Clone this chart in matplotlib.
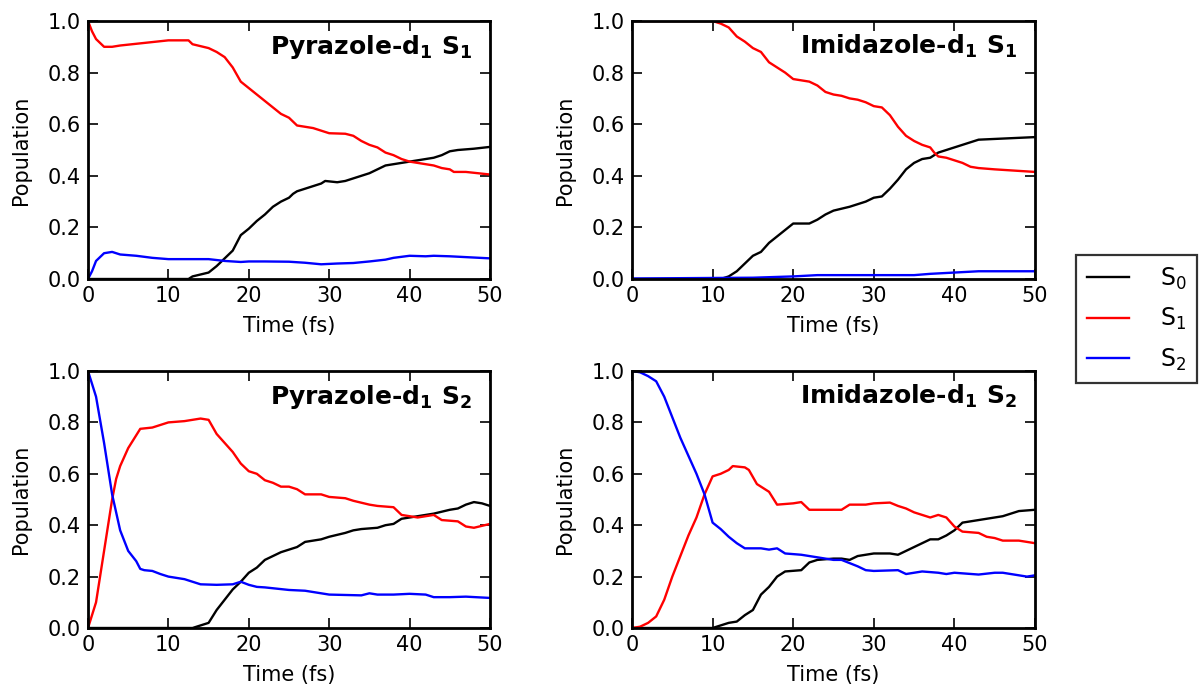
import matplotlib
matplotlib.use("Agg")
import matplotlib.pyplot as plt

# ---------------- data ----------------
# Panel 1: Pyrazole-d1 S1
p1_s0_t = [0, 12.5, 13, 15, 16, 17, 18, 18.5, 19, 20, 21, 22, 23, 24, 25, 25.5, 26, 27, 28, 29, 29.5, 31, 32, 33, 35, 37, 39, 41, 43, 44, 45, 46, 48, 50]
p1_s0_v = [0, 0, 0.01, 0.025, 0.05, 0.08, 0.11, 0.14, 0.17, 0.195, 0.225, 0.25, 0.28, 0.30, 0.315, 0.33, 0.34, 0.35, 0.36, 0.37, 0.38, 0.375, 0.38, 0.39, 0.41, 0.44, 0.45, 0.46, 0.47, 0.48, 0.495, 0.50, 0.505, 0.512]
p1_s1_t = [0, 0.5, 1, 2, 3, 4, 10, 12.5, 13, 15, 16, 17, 18, 19, 20, 22, 24, 25, 26, 28, 29, 30, 32, 33, 34, 35, 36, 37, 38, 39, 40, 42, 43, 44, 45, 45.5, 47, 50]
p1_s1_v = [1.0, 0.96, 0.93, 0.9, 0.9, 0.905, 0.925, 0.925, 0.91, 0.895, 0.88, 0.86, 0.82, 0.765, 0.74, 0.69, 0.64, 0.625, 0.595, 0.585, 0.575, 0.565, 0.563, 0.555, 0.535, 0.52, 0.51, 0.49, 0.48, 0.465, 0.455, 0.445, 0.44, 0.43, 0.425, 0.415, 0.415, 0.405]
p1_s2_t = [0, 0.5, 1, 2, 3, 4, 6, 8, 10, 12, 15, 17, 19, 20, 22, 25, 27, 29, 31, 33, 35, 37, 38, 40, 42, 43, 45, 50]
p1_s2_v = [0, 0.03, 0.07, 0.1, 0.105, 0.095, 0.09, 0.082, 0.077, 0.077, 0.077, 0.07, 0.066, 0.068, 0.068, 0.067, 0.063, 0.057, 0.06, 0.062, 0.068, 0.075, 0.082, 0.09, 0.088, 0.09, 0.088, 0.08]

# Panel 2: Imidazole-d1 S1
p2_s0_t = [0, 11, 12, 13, 14, 15, 16, 17, 18, 19, 20, 22, 23, 24, 25, 27, 28, 29, 30, 31, 32, 33, 34, 35, 36, 37, 38, 40, 42, 43, 50]
p2_s0_v = [0, 0, 0.01, 0.03, 0.06, 0.09, 0.105, 0.14, 0.165, 0.19, 0.215, 0.215, 0.23, 0.25, 0.265, 0.28, 0.29, 0.30, 0.315, 0.32, 0.35, 0.385, 0.425, 0.45, 0.465, 0.47, 0.49, 0.51, 0.53, 0.54, 0.55]
p2_s1_t = [0, 10, 11, 12, 13, 14, 15, 16, 17, 18, 19, 20, 21, 22, 23, 24, 25, 26, 27, 28, 29, 30, 31, 32, 33, 34, 35, 36, 37, 37.5, 38, 39, 40, 41, 42, 43, 45, 50]
p2_s1_v = [1.0, 1.0, 0.99, 0.975, 0.94, 0.92, 0.895, 0.88, 0.84, 0.82, 0.80, 0.775, 0.77, 0.765, 0.75, 0.725, 0.715, 0.71, 0.70, 0.695, 0.685, 0.67, 0.665, 0.635, 0.59, 0.555, 0.535, 0.52, 0.51, 0.49, 0.475, 0.47, 0.46, 0.45, 0.435, 0.43, 0.425, 0.415]
p2_s2_t = [0, 15, 20, 23, 35, 37, 40, 43, 50]
p2_s2_v = [0.002, 0.005, 0.01, 0.015, 0.015, 0.02, 0.025, 0.03, 0.03]

# Panel 3: Pyrazole-d1 S2
p3_s0_t = [0, 13, 14, 15, 16, 17, 18, 19, 20, 21, 22, 23, 24, 25, 26, 27, 29, 30, 32, 33, 34, 36, 37, 38, 39, 41, 43, 45, 46, 47, 48, 49, 50]
p3_s0_v = [0, 0, 0.01, 0.02, 0.07, 0.11, 0.15, 0.18, 0.215, 0.235, 0.265, 0.28, 0.295, 0.305, 0.315, 0.335, 0.345, 0.355, 0.37, 0.38, 0.385, 0.39, 0.40, 0.405, 0.425, 0.435, 0.445, 0.46, 0.465, 0.48, 0.49, 0.485, 0.475]
p3_s1_t = [0, 1, 2, 3, 3.5, 4, 5, 6, 6.5, 8, 9, 10, 12, 13, 14, 15, 16, 17, 18, 19, 20, 21, 22, 23, 24, 25, 26, 27, 29, 30, 32, 33, 35, 36, 38, 39, 40, 41, 43, 44, 46, 47, 48, 50]
p3_s1_v = [0, 0.1, 0.3, 0.5, 0.58, 0.63, 0.70, 0.75, 0.775, 0.78, 0.79, 0.80, 0.805, 0.81, 0.815, 0.81, 0.755, 0.72, 0.685, 0.64, 0.61, 0.60, 0.575, 0.565, 0.55, 0.55, 0.54, 0.52, 0.52, 0.51, 0.505, 0.495, 0.48, 0.475, 0.47, 0.44, 0.435, 0.43, 0.44, 0.42, 0.415, 0.395, 0.39, 0.405]
p3_s2_t = [0, 1, 2, 3, 3.5, 4, 5, 6, 6.5, 7, 8, 9, 10, 12, 13, 14, 16, 18, 19, 20, 21, 22, 25, 27, 30, 34, 35, 36, 38, 40, 42, 43, 45, 47, 50]
p3_s2_v = [1.0, 0.9, 0.72, 0.52, 0.45, 0.38, 0.30, 0.26, 0.23, 0.225, 0.222, 0.21, 0.20, 0.19, 0.18, 0.17, 0.168, 0.17, 0.18, 0.168, 0.16, 0.158, 0.148, 0.145, 0.13, 0.127, 0.135, 0.13, 0.13, 0.133, 0.13, 0.12, 0.12, 0.122, 0.117]

# Panel 4: Imidazole-d1 S2
p4_s0_t = [0, 10, 11, 12, 13, 14, 15, 16, 17, 18, 19, 21, 22, 23, 25, 26, 27, 28, 29, 30, 32, 33, 34, 35, 36, 37, 38, 39, 40, 41, 42, 43, 44, 45, 46, 47, 48, 50]
p4_s0_v = [0, 0, 0.01, 0.02, 0.025, 0.05, 0.07, 0.13, 0.16, 0.2, 0.22, 0.225, 0.255, 0.265, 0.27, 0.27, 0.265, 0.28, 0.285, 0.29, 0.29, 0.285, 0.30, 0.315, 0.33, 0.345, 0.345, 0.36, 0.38, 0.41, 0.415, 0.42, 0.425, 0.43, 0.435, 0.445, 0.455, 0.46]
p4_s1_t = [0, 1, 2, 3, 4, 5, 6, 7, 8, 9, 10, 11, 12, 12.5, 14, 14.5, 15.5, 16, 17, 18, 20, 21, 22, 24, 26, 27, 29, 30, 32, 33, 34, 35, 36, 37, 38, 39, 40, 41, 43, 44, 45, 46, 48, 50]
p4_s1_v = [0, 0.005, 0.02, 0.045, 0.11, 0.2, 0.28, 0.36, 0.43, 0.52, 0.59, 0.6, 0.615, 0.63, 0.625, 0.615, 0.56, 0.55, 0.53, 0.48, 0.485, 0.49, 0.46, 0.46, 0.46, 0.48, 0.48, 0.485, 0.488, 0.475, 0.465, 0.45, 0.44, 0.43, 0.44, 0.43, 0.395, 0.375, 0.37, 0.355, 0.35, 0.34, 0.34, 0.33]
p4_s2_t = [0, 1, 2, 3, 4, 5, 6, 7, 8, 9, 10, 11, 12, 13, 14, 16, 17, 18, 19, 21, 23, 25, 26, 28, 29, 30, 33, 34, 36, 38, 39, 40, 43, 45, 46, 48, 49, 50]
p4_s2_v = [1.0, 0.995, 0.98, 0.96, 0.9, 0.82, 0.74, 0.67, 0.6, 0.52, 0.41, 0.385, 0.355, 0.33, 0.31, 0.31, 0.305, 0.31, 0.29, 0.285, 0.275, 0.265, 0.265, 0.24, 0.225, 0.222, 0.225, 0.21, 0.22, 0.215, 0.21, 0.215, 0.208, 0.215, 0.215, 0.205, 0.2, 0.205]

titles = [r'Pyrazole-d$_\mathbf{1}$ S$_\mathbf{1}$', r'Imidazole-d$_\mathbf{1}$ S$_\mathbf{1}$',
          r'Pyrazole-d$_\mathbf{1}$ S$_\mathbf{2}$', r'Imidazole-d$_\mathbf{1}$ S$_\mathbf{2}$']
legend_labels = [r'S$_0$', r'S$_1$', r'S$_2$']
colors = ['black', 'red', 'blue']
xticks = [0, 10, 20, 30, 40, 50]
yticks = [0.0, 0.2, 0.4, 0.6, 0.8, 1.0]

panels = [
    [(p1_s0_t, p1_s0_v), (p1_s1_t, p1_s1_v), (p1_s2_t, p1_s2_v)],
    [(p2_s0_t, p2_s0_v), (p2_s1_t, p2_s1_v), (p2_s2_t, p2_s2_v)],
    [(p3_s0_t, p3_s0_v), (p3_s1_t, p3_s1_v), (p3_s2_t, p3_s2_v)],
    [(p4_s0_t, p4_s0_v), (p4_s1_t, p4_s1_v), (p4_s2_t, p4_s2_v)],
]

# ---------------- figure ----------------
plt.rcParams['font.family'] = ['DejaVu Sans']
plt.rcParams['mathtext.default'] = 'regular'
fig = plt.figure(figsize=(12.01, 6.88), dpi=100)

W, H = 1201.0, 688.0
rects = [
    (88 / W, 1 - 279 / H, 402 / W, 258 / H),
    (632 / W, 1 - 279 / H, 403 / W, 258 / H),
    (88 / W, 1 - 628 / H, 402 / W, 257 / H),
    (632 / W, 1 - 628 / H, 403 / W, 257 / H),
]

lines = None
for i, rect in enumerate(rects):
    ax = fig.add_axes(rect)
    hs = []
    for (t, v), c, lab in zip(panels[i], colors, legend_labels):
        h, = ax.plot(t, v, color=c, lw=1.7, label=lab)
        hs.append(h)
    if lines is None:
        lines = hs
    ax.set_xlim(0, 50)
    ax.set_ylim(0, 1)
    ax.set_xticks(xticks)
    ax.set_yticks(yticks)
    ax.set_yticklabels([f'{y:.1f}' for y in yticks])
    ax.tick_params(direction='in', top=True, right=True, length=7, width=1.2,
                   labelsize=15, pad=5)
    for s in ax.spines.values():
        s.set_linewidth(2)
    ax.set_xlabel('Time (fs)', fontsize=15, labelpad=7)
    ax.set_ylabel('Population', fontsize=15, labelpad=12)
    ax.text(0.955, 0.872, titles[i], transform=ax.transAxes, ha='right', va='baseline',
            fontsize=18, fontweight='bold')

leg = fig.legend(lines, legend_labels, loc='upper left',
                 bbox_to_anchor=(1076 / W, 1 - 255 / H), fontsize=17,
                 frameon=True, fancybox=False, borderpad=0.45, handlelength=1.8,
                 handletextpad=1.3, labelspacing=0.6, borderaxespad=0)
leg.get_frame().set_edgecolor('black')
leg.get_frame().set_linewidth(1.6)

fig.savefig('out.png', dpi=100)
